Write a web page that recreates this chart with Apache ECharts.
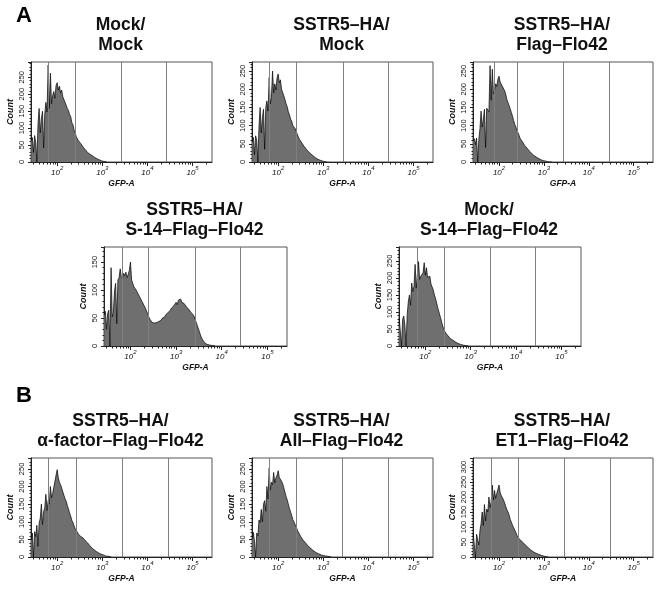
<!DOCTYPE html>
<html>
<head>
<meta charset="utf-8">
<script src="https://cdn.jsdelivr.net/npm/echarts@6/dist/echarts.min.js"></script>
<style>html,body{margin:0;padding:0;background:#fff}#c{width:660px;height:590px}</style>
</head>
<body>
<div id="c"></div>
<script>
// ---- data (GFP-A histograms, bins of 0.025 log10 units starting at 10^1.425) ----
const BIN_START = 1.425;
const BIN_STEP = 0.025;

const titles = [
  ['Mock/', 'Mock'],
  ['SSTR5\u2013HA/', 'Mock'],
  ['SSTR5\u2013HA/', 'Flag\u2013Flo42'],
  ['SSTR5\u2013HA/', 'S-14\u2013Flag\u2013Flo42'],
  ['Mock/', 'S-14\u2013Flag\u2013Flo42'],
  ['SSTR5\u2013HA/', '\u03b1-factor\u2013Flag\u2013Flo42'],
  ['SSTR5\u2013HA/', 'AII\u2013Flag\u2013Flo42'],
  ['SSTR5\u2013HA/', 'ET1\u2013Flag\u2013Flo42']
];
const panelLetters = ['A', 'B'];
const xTickExponents = [2, 3, 4, 5];
const xAxisName = 'GFP-A';
const yAxisName = 'Count';
const yMax = [295, 275, 275, 177, 291, 281, 281, 330];
const gates = [
  [1.80, 2.40, 3.42, 4.42],
  [1.80, 2.41, 3.44, 4.44],
  [1.89, 2.41, 3.43, 4.46],
  [1.83, 2.40, 3.41, 4.40],
  [1.83, 2.42, 3.44, 4.43],
  [1.81, 2.43, 3.44, 4.46],
  [1.80, 2.41, 3.42, 4.43],
  [1.83, 2.42, 3.45, 4.47]
];

const mockMock = [62,72,28,78,58,0,112,158,86,128,150,42,142,176,148,286,158,262,172,196,208,188,226,234,212,224,204,212,192,190,176,172,158,152,140,134,116,110,94,86,74,72,62,60,54,49,44,41,36,33,28,27,23,22,19,16,14,12,10,9,7,5,4,3,2,1,1,0];
const sstrMock = [55,68,20,72,60,0,98,150,80,122,145,35,150,168,140,232,160,178,250,190,215,198,232,242,218,226,200,196,182,172,160,152,138,130,118,112,100,96,92,88,76,68,62,60,52,47,43,40,35,31,28,25,22,19,17,14,12,10,8,7,5,4,3,2,1,1,0];
const sstrFlag = [58,64,48,66,0,62,92,140,96,118,145,40,148,150,138,265,170,255,188,196,215,208,228,236,220,225,208,210,196,186,172,168,155,146,136,126,114,104,96,86,80,72,64,60,55,50,45,43,38,34,30,27,24,21,18,16,14,12,10,9,7,6,4,4,3,2,1,1,0,1,0];
const sstrS14 = [55,62,30,58,64,0,140,52,60,98,112,40,118,122,138,124,120,130,126,132,122,128,135,150,118,112,106,104,100,96,92,88,85,80,77,72,68,65,58,52,48,46,42,44,41,44,42,45,44,47,46,50,53,52,56,58,60,63,64,68,70,72,75,78,74,82,80,84,78,80,76,74,70,72,66,64,60,58,56,52,46,40,34,28,22,16,12,9,6,4,3,2,2,1,1,0,1,0];
const mockS14 = [82,85,0,78,88,60,0,90,130,150,120,185,160,175,240,170,210,248,196,205,200,215,245,208,230,202,198,205,182,178,165,150,140,126,112,100,88,76,62,52,44,38,34,30,26,22,20,18,15,13,11,9,7,6,5,4,3,2,2,1,1,0];
const sstrAlpha = [48,68,0,72,58,90,30,96,110,150,92,128,140,178,132,160,150,200,168,180,198,215,232,248,225,212,205,196,185,175,165,158,146,136,125,116,104,98,88,80,75,70,64,62,58,56,54,50,46,44,40,36,32,28,25,23,20,17,15,13,11,9,8,7,6,5,3,3,2,1,1,0];
const sstrAII = [52,70,45,0,68,60,105,98,135,100,150,160,130,200,165,252,190,212,205,240,210,225,232,245,226,222,215,208,196,184,172,162,150,138,128,118,106,100,92,86,76,70,64,58,54,48,45,41,37,33,30,27,24,21,18,16,14,12,10,9,8,6,5,4,4,3,2,2,1,1,0];
const sstrET1 = [78,80,0,76,82,40,88,112,150,105,175,120,160,150,200,165,185,240,190,222,195,212,208,240,215,205,198,190,180,168,158,150,140,125,116,106,98,92,82,72,66,60,55,53,50,46,42,38,34,31,28,24,22,19,16,14,13,11,9,8,6,5,4,3,2,1,1,0];

const seriesValues = [mockMock, sstrMock, sstrFlag, sstrS14, mockS14, sstrAlpha, sstrAII, sstrET1];

// ---- layout (pixels) ----
const boxes = [
  [31, 62, 181, 100], [252, 62, 181, 100], [473, 62, 180, 100],
  [104, 247, 183, 99], [399, 247, 182, 99],
  [31, 458, 181, 99], [252, 458, 181, 99], [473, 458, 180, 99]
];
const titleY = [[25,45],[25,45],[25,45],[210,230],[210,230],[421,441],[421,441],[421,441]];
const letterPos = [[24, 16], [24, 396]];
const X_MIN = 1.42, X_MAX = 5.43;

const FONT = '"Liberation Sans", Arial, "DejaVu Sans", sans-serif';

// minor tick positions (log10 of 2..9 x 10^d)
const minorTicks = [];
for (let d = 1; d <= 5; d++) {
  for (let k = 2; k <= 9; k++) {
    const v = Math.log10(k * Math.pow(10, d));
    if (v > X_MIN && v < X_MAX) minorTicks.push(v);
  }
}

const grid = [], xAxis = [], yAxis = [], series = [], graphic = [];
boxes.forEach((b, i) => {
  grid.push({left: b[0], top: b[1], width: b[2], height: b[3], show: true,
    borderColor: '#555', borderWidth: 1, backgroundColor: '#fff'});
  xAxis.push({
    type: 'value', gridIndex: i, min: X_MIN, max: X_MAX, position: 'bottom',
    axisLine: {show: true, lineStyle: {color: '#222', width: 1}},
    axisTick: {show: true, length: 4, customValues: xTickExponents, lineStyle: {color: '#222'}},
    axisLabel: {customValues: xTickExponents, margin: 3, color: '#111',
      formatter: v => '{a|10}{b|' + Math.round(v) + '}',
      rich: {
        a: {fontSize: 8, fontStyle: 'italic', fontFamily: FONT, lineHeight: 12, verticalAlign: 'bottom', color: '#111'},
        b: {fontSize: 6, fontStyle: 'italic', fontFamily: FONT, lineHeight: 8, verticalAlign: 'top', color: '#111'}
      }},
    splitLine: {show: false},
    name: xAxisName, nameLocation: 'middle', nameGap: 17,
    nameTextStyle: {fontSize: 8.5, fontWeight: 'bold', fontStyle: 'italic', fontFamily: FONT, color: '#111'}
  });
  xAxis.push({
    type: 'value', gridIndex: i, min: X_MIN, max: X_MAX, position: 'bottom',
    axisLine: {show: false},
    axisTick: {show: true, length: 2.5, customValues: minorTicks, lineStyle: {color: '#222'}},
    axisLabel: {show: false}, splitLine: {show: false}
  });
  yAxis.push({
    type: 'value', gridIndex: i, min: 0, max: yMax[i], interval: 50,
    axisLine: {show: true, lineStyle: {color: '#222', width: 1}},
    axisTick: {show: true, length: 3, lineStyle: {color: '#222'}},
    minorTick: {show: true, splitNumber: 5, length: 1.5, lineStyle: {color: '#222'}},
    axisLabel: {rotate: 90, fontSize: 7.5, margin: 5, color: '#111', fontFamily: FONT, showMaxLabel: false},
    splitLine: {show: false},
    name: yAxisName, nameLocation: 'middle', nameGap: 16, nameRotate: 90,
    nameTextStyle: {fontSize: 9, fontWeight: 'bold', fontStyle: 'italic', fontFamily: FONT, color: '#111'}
  });
  series.push({
    type: 'line', xAxisIndex: 2 * i, yAxisIndex: i, symbol: 'none', animation: false,
    data: seriesValues[i].map((v, k) => [BIN_START + k * BIN_STEP, v]),
    lineStyle: {color: '#000', width: 0.7},
    areaStyle: {color: '#6f6f6f', opacity: 1},
    markLine: {silent: true, symbol: ['none', 'none'], label: {show: false}, animation: false,
      lineStyle: {color: '#808080', width: 1, type: 'solid'},
      data: gates[i].map(g => ({xAxis: g}))}
  });
  const cx = b[0] + b[2] / 2 - 1;
  titles[i].forEach((t, j) => {
    graphic.push({type: 'text', x: cx, y: titleY[i][j],
      style: {text: t, font: 'bold 17.5px ' + FONT, fill: '#111',
        textAlign: 'center', align: 'center', textVerticalAlign: 'middle', verticalAlign: 'middle'}});
  });
});
panelLetters.forEach((L, i) => {
  graphic.push({type: 'text', x: letterPos[i][0], y: letterPos[i][1],
    style: {text: L, font: 'bold 22px ' + FONT, fill: '#000',
      textAlign: 'center', align: 'center', textVerticalAlign: 'middle', verticalAlign: 'middle'}});
});

const chart = echarts.init(document.getElementById('c'), null, {renderer: 'canvas'});
chart.setOption({animation: false, backgroundColor: '#fff', grid, xAxis, yAxis, series, graphic});
</script>
</body>
</html>
